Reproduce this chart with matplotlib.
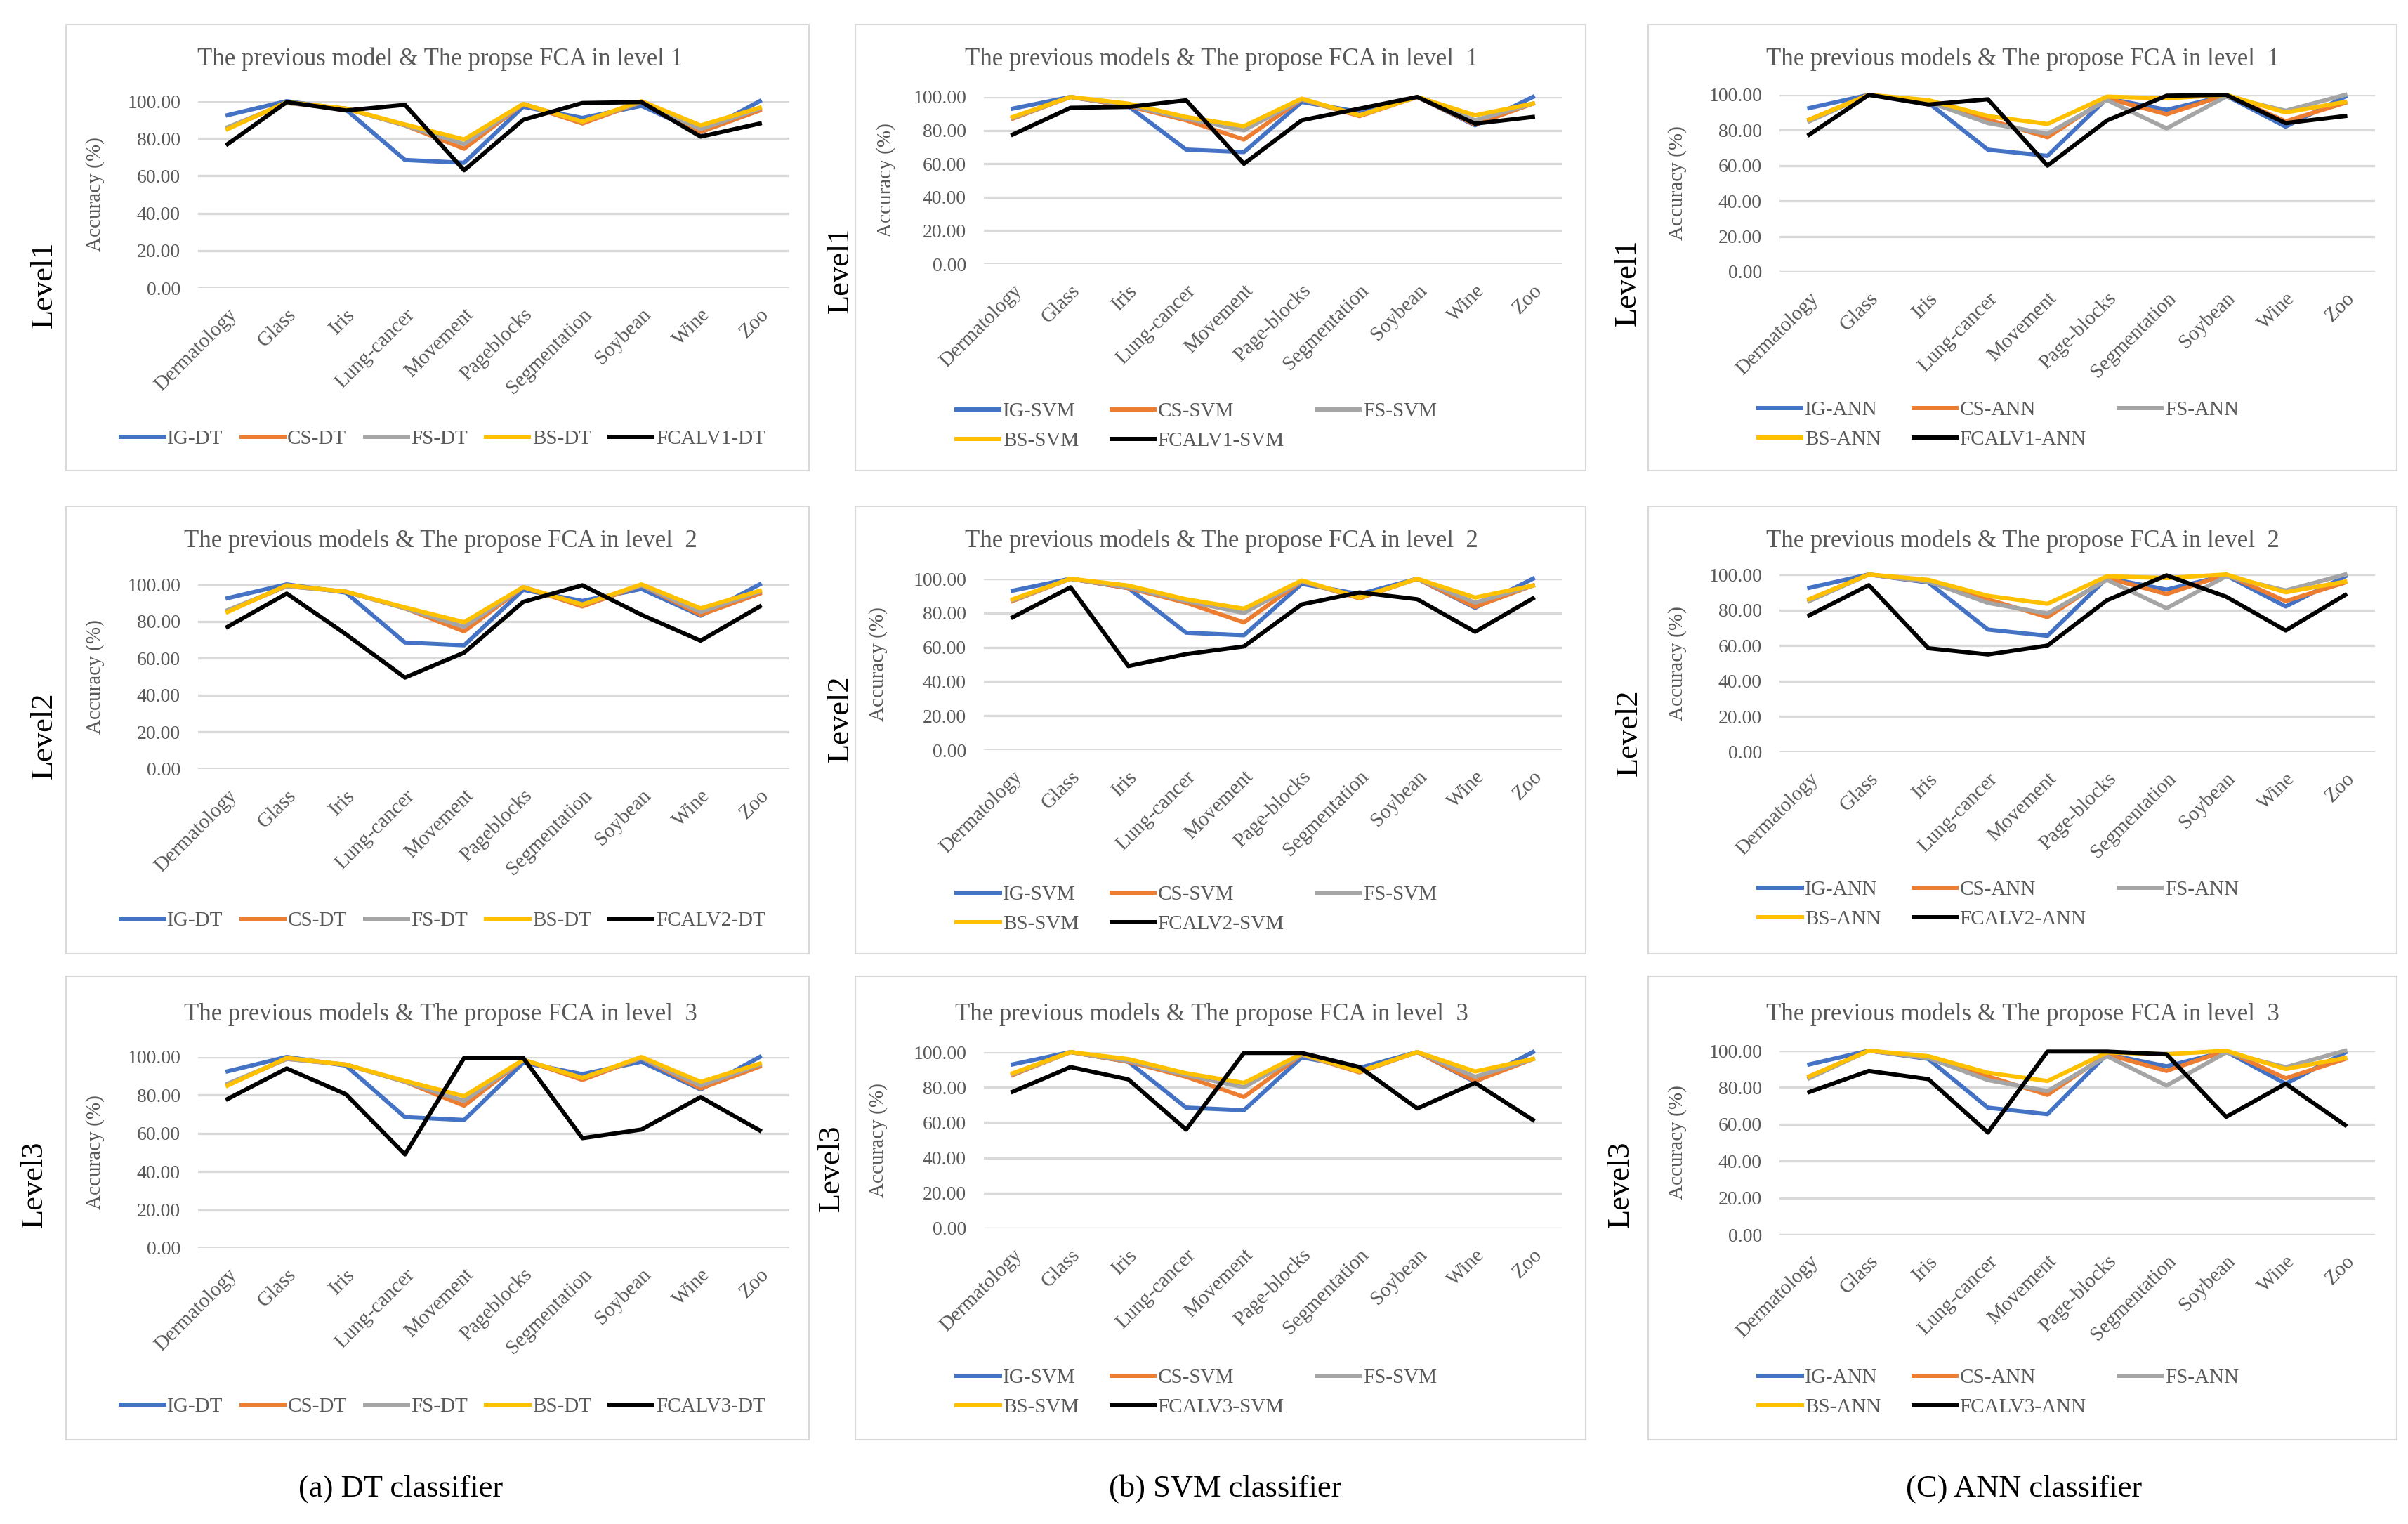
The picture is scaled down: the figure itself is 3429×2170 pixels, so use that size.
import matplotlib
matplotlib.use('Agg')
import matplotlib.pyplot as plt
from matplotlib.patches import Rectangle

plt.rcParams['font.family'] = ['Liberation Serif', 'DejaVu Serif']

# category labels
sets_dt = ['Dermatology', 'Glass', 'Iris', 'Lung-cancer', 'Movement', 'Pageblocks',
           'Segmentation', 'Soybean', 'Wine', 'Zoo']
sets_other = ['Dermatology', 'Glass', 'Iris', 'Lung-cancer', 'Movement', 'Page-blocks',
              'Segmentation', 'Soybean', 'Wine', 'Zoo']

# DT classifier (accuracy %)
IG_DT = [92.5, 100, 95.5, 68.5, 67, 97, 91, 97.5, 83, 100]
CS_DT = [85.5, 99, 96, 87, 74.5, 98.5, 88, 99.5, 83.5, 95]
FS_DT = [86, 99, 96, 87, 77, 98.5, 89, 99.5, 85, 96]
BS_DT = [85, 99.5, 96, 87.5, 79.5, 98.5, 89, 100, 87, 96.5]
FCA_DT_L1 = [77, 99.5, 95, 98, 63, 90, 99, 99.5, 81, 88]
FCA_DT_L2 = [77, 95, 73, 49.5, 63, 90.5, 99.5, 83.5, 69.5, 88]
FCA_DT_L3 = [78, 94, 80.5, 49, 99.5, 99.5, 57.5, 62, 79, 61.5]

# SVM classifier
IG_SVM = [93, 100, 94.5, 68.5, 67, 97, 91, 100, 83, 100]
CS_SVM = [87, 100, 94.5, 86, 74.5, 98.5, 88.5, 100, 83.5, 96]
FS_SVM = [87.5, 100, 95, 87, 80, 98.5, 89, 100, 86, 96]
BS_SVM = [88, 100, 96, 88, 82.5, 99, 89, 100, 89, 96]
FCA_SVM_L1 = [77.5, 93.5, 94, 98, 60, 86, 93, 100, 84, 88]
FCA_SVM_L2 = [77.5, 95, 49, 56, 60.5, 85, 92, 88, 69, 88.5]
FCA_SVM_L3 = [77.5, 91.5, 84.5, 56, 99.5, 99.5, 91.5, 68, 82.5, 61.5]

# ANN classifier
IG_ANN = [92.5, 100, 95.5, 69, 65.5, 98, 91.5, 99.5, 82, 99]
CS_ANN = [86, 100, 96, 86, 76, 98, 89, 100, 85, 95.5]
FS_ANN = [85, 100, 96, 84, 78, 97, 81, 99, 91, 100]
BS_ANN = [86, 100, 97, 88, 83.5, 99, 98, 100, 90, 96]
FCA_ANN_L1 = [77.5, 100, 94.5, 97.5, 60, 85.5, 99.5, 100, 84, 88]
FCA_ANN_L2 = [77, 94, 58.5, 55, 60, 85.5, 99.5, 87.5, 68.5, 88.5]
FCA_ANN_L3 = [77.5, 89, 84.5, 55.5, 99.5, 99.5, 98, 64, 82, 59.5]

titles_dt = ['The previous model & The propse FCA in level 1',
             'The previous models & The propose FCA in level  2',
             'The previous models & The propose FCA in level  3']
titles_other = ['The previous models & The propose FCA in level  1',
                'The previous models & The propose FCA in level  2',
                'The previous models & The propose FCA in level  3']

colors = ['#4472C4', '#ED7D31', '#A5A5A5', '#FFC000', '#000000']
grey_txt = '#595959'

W, H = 3430, 2170
fig = plt.figure(figsize=(W / 100, H / 100), dpi=100)


def fx(x):
    return x / W


def fy(y):
    return 1 - y / H


cols = [
    dict(clf='DT', cats=sets_dt, base=[IG_DT, CS_DT, FS_DT, BS_DT],
         fca=[FCA_DT_L1, FCA_DT_L2, FCA_DT_L3], titles=titles_dt,
         ax=[(282, 144, 1124, 410), (282, 832, 1124, 1095), (282, 1505, 1124, 1777)],
         box=(94, 1152), title_x=[627, 627, 627], leg_x=631, leg_y=[625, 1311, 2003],
         lvl=[(63, 405), (63, 1047), (49, 1686)], ylab_x=[149, 149, 149], cap=(571, '(a) DT classifier')),
    dict(clf='SVM', cats=sets_other, base=[IG_SVM, CS_SVM, FS_SVM, BS_SVM],
         fca=[FCA_SVM_L1, FCA_SVM_L2, FCA_SVM_L3], titles=titles_other,
         ax=[(1401, 138, 2224, 376), (1401, 824, 2224, 1068), (1401, 1498, 2224, 1749)],
         box=(1218, 2258), title_x=[1739, 1739, 1725], leg_x=1704, leg_y=[607, 1295, 1983],
         lvl=[(1197, 384), (1197, 1023), (1184, 1663)], ylab_x=[1275, 1264, 1264], cap=(1745, '(b) SVM classifier')),
    dict(clf='ANN', cats=sets_other, base=[IG_ANN, CS_ANN, FS_ANN, BS_ANN],
         fca=[FCA_ANN_L1, FCA_ANN_L2, FCA_ANN_L3], titles=titles_other,
         ax=[(2534, 135, 3382, 387), (2534, 818, 3382, 1071), (2534, 1496, 3382, 1758)],
         box=(2347, 3413), title_x=[2880, 2880, 2880], leg_x=2846, leg_y=[605, 1288, 1983],
         lvl=[(2318, 402), (2320, 1043), (2308, 1686)], ylab_x=[2402, 2402, 2402], cap=(2882, '(C) ANN classifier')),
]

box_rows = [(35, 670), (721, 1358), (1390, 2050)]
title_y = [84, 770, 1444]

for c in cols:
    for lv in range(3):
        x0, y0, x1, y1 = c['ax'][lv]
        by0, by1 = box_rows[lv]
        bx0, bx1 = c['box']
        fig.add_artist(Rectangle((fx(bx0), fy(by1)), (bx1 - bx0) / W, (by1 - by0) / H,
                                 transform=fig.transFigure, fill=False,
                                 ec='#D9D9D9', lw=1.5))

        ax = fig.add_axes([fx(x0), fy(y1), (x1 - x0) / W, (y1 - y0) / H])
        xs = range(len(c['cats']))
        names = ['IG-', 'CS-', 'FS-', 'BS-']
        handles = []
        for i, vals in enumerate(c['base']):
            h, = ax.plot(xs, vals, color=colors[i], lw=4.3, clip_on=False,
                         label=names[i] + c['clf'])
            handles.append(h)
        h, = ax.plot(xs, c['fca'][lv], color=colors[4], lw=4.3, clip_on=False,
                     label='FCALV%d-%s' % (lv + 1, c['clf']))
        handles.append(h)

        ax.set_xlim(-0.5, len(c['cats']) - 0.5)
        ax.set_ylim(0, 100)
        ax.set_yticks([0, 20, 40, 60, 80, 100])
        ax.set_yticklabels(['%.2f' % v for v in [0, 20, 40, 60, 80, 100]])
        ax.set_xticks(list(xs))
        ax.set_xticklabels(c['cats'], rotation=45, ha='right', va='top',
                           rotation_mode='anchor')
        ax.tick_params(axis='both', length=0, colors=grey_txt, labelsize=20)
        ax.tick_params(axis='x', labelsize=21, pad=18)
        ax.tick_params(axis='y', pad=18)
        ax.grid(axis='y', color='#D9D9D9', lw=2.4)
        ax.set_axisbelow(True)
        for s in ax.spines.values():
            s.set_visible(False)

        ax.set_ylabel('Accuracy (%)', fontsize=21, color=grey_txt)
        ax.yaxis.set_label_coords((c['ylab_x'][lv] - x0) / (x1 - x0), 0.5)

        fig.text(fx(c['title_x'][lv]), fy(title_y[lv]), c['titles'][lv],
                 ha='center', va='center', fontsize=25, color=grey_txt)

        if c['clf'] == 'DT':
            leg_handles = handles
            ncol, colsp = 5, 0.9
        else:
            order = [0, 3, 1, 4, 2]
            leg_handles = [handles[k] for k in order]
            ncol, colsp = 3, 1.6
        ax.legend(handles=leg_handles, ncol=ncol, columnspacing=colsp,
                  loc='center', bbox_to_anchor=(fx(c['leg_x']), fy(c['leg_y'][lv])),
                  bbox_transform=fig.transFigure, frameon=False,
                  prop={'size': 21}, labelcolor=grey_txt,
                  handlelength=2.1, handletextpad=0.15, labelspacing=0.55,
                  borderpad=0, borderaxespad=0)

        lx, ly = c['lvl'][lv]
        fig.text(fx(lx), fy(ly), 'Level%d' % (lv + 1), rotation=90,
                 ha='center', va='center', fontsize=32, color='black')

    cx, cap = c['cap']
    fig.text(fx(cx), fy(2120), cap, ha='center', va='center', fontsize=32, color='black')

fig.savefig('out.png', dpi=100, facecolor='white')
